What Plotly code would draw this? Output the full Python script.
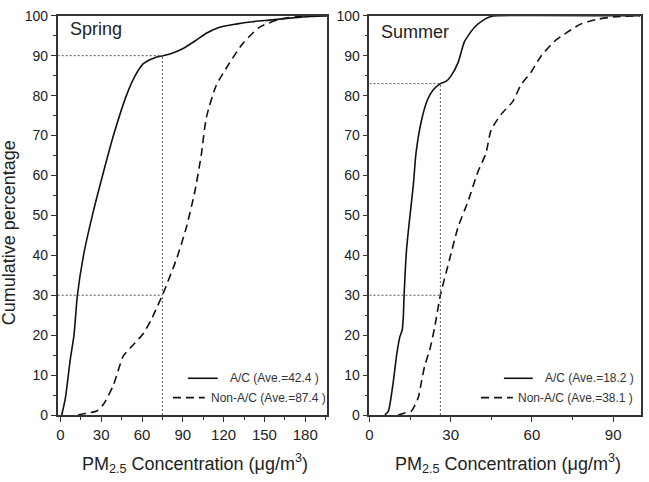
import plotly.graph_objects as go

# ---------------- data ----------------
spring_ac_x = [1, 3.7, 7.3, 10, 12.5, 17, 23.5, 31, 39, 48.5, 55, 61, 69.5, 75.5, 80.5, 90.2, 100, 107.3, 117, 129, 141, 153.6, 165.8, 178, 196]
spring_ac_y = [0, 4.3, 14, 20, 30, 40, 50, 60, 70, 80, 85, 88, 89.5, 90, 90.4, 91.8, 93.9, 95.6, 97.1, 97.9, 98.5, 98.9, 99.3, 99.7, 100]

spring_non_x = [13, 17, 20, 26.8, 31.7, 39, 46.3, 53.6, 61, 67, 71, 75, 85.3, 92.6, 98.8, 103.6, 107.3, 114.6, 124.4, 134, 146.3, 161, 178, 196]
spring_non_y = [0, 0.3, 0.5, 1.0, 2.7, 7.5, 14.8, 17.6, 20.4, 24, 27, 30, 39, 47, 55.9, 65.2, 74.5, 82.6, 88.2, 93, 97.1, 99.1, 99.9, 100]

summer_ac_x = [5.7, 7, 8.8, 10, 11.2, 12.1, 12.5, 12.8, 13.7, 14.9, 16.2, 17.2, 19.2, 21.4, 23.5, 26.2, 28.4, 30.2, 32.7, 35.1, 38.8, 42.5, 44.9, 47, 100]
summer_ac_y = [0, 1, 8.3, 14.8, 19.5, 21.3, 24.4, 30, 41.4, 49.5, 57.5, 65.6, 73.7, 78.9, 81.4, 83, 83.6, 85, 88.2, 93.5, 97.1, 99.1, 99.8, 100, 100]

summer_non_x = [10.6, 13, 15.5, 18, 19.2, 20.4, 22.3, 24.1, 26.2, 29.6, 32.7, 36.4, 40, 43, 44.9, 48.6, 52.9, 55.9, 59.6, 63.3, 68.2, 73.1, 78, 84.1, 90.2, 100]
summer_non_y = [0, 0.5, 1, 4.3, 8.3, 12.3, 16.4, 22, 30, 39, 47, 53.5, 60.8, 65.5, 71.3, 75.3, 78.5, 82.6, 85.8, 89.8, 93.5, 95.9, 97.9, 99.1, 99.7, 100]

# reference (threshold) lines
spring_ref_x = 75
spring_ref_levels = [90, 30]
summer_ref_x = 26.2
summer_ref_levels = [83, 30]

spring_xrange = [-2, 196]
summer_xrange = [0, 100.2]

panel_names = ["Spring", "Summer"]
legend_ac = ["A/C (Ave.=42.4 )", "A/C (Ave.=18.2 )"]
legend_non = ["Non-A/C (Ave.=87.4 )", "Non-A/C (Ave.=38.1 )"]

# ---------------- figure ----------------
W, H = 649, 482
def px(x):
    return x / W
def py(y):
    return 1 - y / H

FONT = "Liberation Sans, Arial, sans-serif"
fig = go.Figure()

solid = dict(color="#111111", width=1.6, shape="spline", smoothing=0.6)
dashed = dict(color="#111111", width=1.6, dash="8px,5px", shape="spline", smoothing=0.6)
dotted = dict(color="#555555", width=1, dash="2px,2px")

panels = [
    ("x", "y", spring_ac_x, spring_ac_y, spring_non_x, spring_non_y, spring_ref_x, spring_ref_levels, spring_xrange),
    ("x2", "y2", summer_ac_x, summer_ac_y, summer_non_x, summer_non_y, summer_ref_x, summer_ref_levels, summer_xrange),
]
for i, (xa, ya, acx, acy, nx, ny, rx, rlev, xr) in enumerate(panels):
    fig.add_trace(go.Scatter(x=acx, y=acy, mode="lines", line=solid, xaxis=xa, yaxis=ya,
                             name=legend_ac[i], showlegend=False))
    fig.add_trace(go.Scatter(x=nx, y=ny, mode="lines", line=dashed, xaxis=xa, yaxis=ya,
                             name=legend_non[i], showlegend=False))
    # threshold lines
    fig.add_trace(go.Scatter(x=[xr[0], rx], y=[rlev[0], rlev[0]], mode="lines", line=dotted,
                             xaxis=xa, yaxis=ya, showlegend=False, hoverinfo="skip"))
    fig.add_trace(go.Scatter(x=[rx, rx], y=[0, rlev[0]], mode="lines", line=dotted,
                             xaxis=xa, yaxis=ya, showlegend=False, hoverinfo="skip"))
    fig.add_trace(go.Scatter(x=[xr[0], rx], y=[rlev[1], rlev[1]], mode="lines", line=dotted,
                             xaxis=xa, yaxis=ya, showlegend=False, hoverinfo="skip"))

yd = [py(421), py(8)]
axis_common = dict(showline=True, linewidth=1.5, linecolor="#333333", mirror=True,
                   showgrid=False, zeroline=False, ticks="outside", tickcolor="#333333",
                   tickwidth=1.3, ticklabeloverflow="allow")
fig.update_layout(
    width=W, height=H, margin=dict(l=0, r=0, t=0, b=0),
    plot_bgcolor="white", paper_bgcolor="white", showlegend=False,
    font=dict(family=FONT, color="#222222"),
    xaxis=dict(domain=[px(54), px(325)], range=spring_xrange, tickmode="linear", tick0=0, dtick=30,
               ticklen=5, tickfont=dict(size=15), anchor="y",
               minor=dict(dtick=15, tick0=0, ticklen=3, ticks="outside", tickcolor="#333333"),
               **axis_common),
    yaxis=dict(domain=yd, range=[0, 100], tickmode="linear", tick0=0, dtick=10, ticklen=5,
               tickfont=dict(size=14), anchor="x",
               minor=dict(dtick=5, tick0=0, ticklen=3, ticks="outside", tickcolor="#333333"),
               **axis_common),
    xaxis2=dict(domain=[px(367.7), px(640.7)], range=summer_xrange, tickmode="linear", tick0=0, dtick=30,
                ticklen=5, tickfont=dict(size=15), anchor="y2",
                minor=dict(dtick=15, tick0=0, ticklen=3, ticks="outside", tickcolor="#333333"),
                **axis_common),
    yaxis2=dict(domain=yd, range=[0, 100], tickmode="linear", tick0=0, dtick=10, ticklen=5,
                tickfont=dict(size=14), anchor="x2",
                minor=dict(dtick=5, tick0=0, ticklen=3, ticks="outside", tickcolor="#333333"),
                **axis_common),
)

ann = []
# panel labels
ann.append(dict(text=panel_names[0], x=px(64), y=py(22), xref="paper", yref="paper",
                xanchor="left", yanchor="middle", showarrow=False, font=dict(size=18, color="#222")))
ann.append(dict(text=panel_names[1], x=px(377), y=py(25), xref="paper", yref="paper",
                xanchor="left", yanchor="middle", showarrow=False, font=dict(size=18, color="#222")))
# x titles
xt = "PM<sub>2.5</sub> Concentration (μg/m<sup>3</sup>)"
ann.append(dict(text=xt, x=px(192.5), y=py(471), xref="paper", yref="paper",
                xanchor="center", yanchor="middle", showarrow=False, font=dict(size=18, color="#222")))
ann.append(dict(text=xt, x=px(507), y=py(471), xref="paper", yref="paper",
                xanchor="center", yanchor="middle", showarrow=False, font=dict(size=18, color="#222")))
# y title
ann.append(dict(text="Cumulative percentage", x=px(5), y=py(232), xref="paper", yref="paper",
                xanchor="center", yanchor="middle", textangle=-90, showarrow=False,
                font=dict(size=18, color="#222")))
# legends
leg = [(185, 215, 225, 170, 202, 206), (503, 532, 542, 480, 512, 515)]
shapes = []
for i, (s0, s1, st, d0, d1, dt) in enumerate(leg):
    shapes.append(dict(type="line", xref="paper", yref="paper", x0=px(s0), x1=px(s1),
                       y0=py(383), y1=py(383), line=dict(color="#111", width=1.6)))
    shapes.append(dict(type="line", xref="paper", yref="paper", x0=px(d0), x1=px(d1),
                       y0=py(403), y1=py(403), line=dict(color="#111", width=1.6, dash="8px,5px")))
    ann.append(dict(text=legend_ac[i], x=px(st), y=py(383), xref="paper", yref="paper",
                    xanchor="left", yanchor="middle", showarrow=False, font=dict(size=12, color="#333")))
    ann.append(dict(text=legend_non[i], x=px(dt), y=py(403), xref="paper", yref="paper",
                    xanchor="left", yanchor="middle", showarrow=False, font=dict(size=12, color="#333")))
fig.update_layout(annotations=ann, shapes=shapes)

fig.write_html("out.html")
